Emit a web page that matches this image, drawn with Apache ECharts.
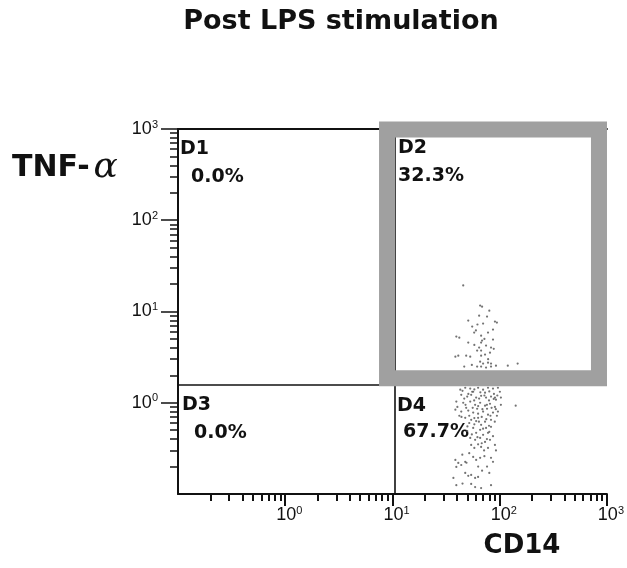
<!DOCTYPE html>
<html>
<head>
<meta charset="utf-8">
<title>Post LPS stimulation</title>
<script src="https://cdn.jsdelivr.net/npm/echarts@6/dist/echarts.min.js"></script>
<style>
  html, body { margin: 0; padding: 0; background: #fff; }
  #chart { width: 627px; height: 568px; }
</style>
</head>
<body>
<div id="chart"></div>
<script>
// CD14 (x) against TNF-alpha (y)
const cellsHigh = [
  [45.7, 19.3], [65.7, 11.6], [68.5, 11.3], [64.3, 9.0], [76.2, 8.8], [50.9, 7.96],
  [70.0, 7.38], [90.3, 7.76], [94.2, 7.57], [55.4, 6.84], [86.6, 6.34], [57.8, 5.87],
  [77.8, 5.87], [67.1, 5.44], [39.4, 5.31], [42.0, 5.17], [86.6, 4.92], [50.9, 4.56],
  [67.1, 4.56], [68.5, 4.80], [74.6, 4.23], [83.0, 4.02], [64.3, 4.02], [61.6, 3.73],
  [67.1, 3.73], [81.2, 3.54], [48.7, 3.28], [53.1, 3.20], [38.6, 3.20], [41.1, 3.28],
  [67.1, 3.28], [73.0, 3.37], [65.7, 2.82], [70.0, 2.69], [77.8, 2.75], [83.0, 2.69],
  [61.6, 2.49], [67.1, 2.49], [46.7, 2.49], [92.3, 2.55], [119, 2.55], [147, 2.69],
  [74.6, 2.43], [83.0, 2.49],
  [60, 6.2], [72, 5.0], [58, 4.3], [78, 3.0], [55, 2.6], [88, 3.9], [62, 7.2], [80, 10.2]
];
const cellsLow = [
  [42.9, 1.39], [47.7, 1.46], [53.1, 1.43], [56.6, 1.32], [62.9, 1.46], [70.0, 1.39],
  [77.8, 1.46], [86.6, 1.43], [96.3, 1.46], [100.4, 1.32], [43.8, 1.22], [49.8, 1.17],
  [54.2, 1.22], [60.3, 1.14], [67.1, 1.19], [74.6, 1.14], [83.0, 1.17], [92.3, 1.08],
  [102.6, 1.14], [39.4, 1.03], [45.7, 1.00], [53.1, 1.03], [59.0, 0.95], [65.7, 1.00],
  [73.0, 0.93], [81.2, 0.975], [90.3, 0.90], [141, 0.93], [38.6, 0.84], [43.8, 0.80],
  [50.9, 0.82], [56.6, 0.78], [62.9, 0.76], [70.0, 0.80], [77.8, 0.74], [86.6, 0.78],
  [96.3, 0.80], [47.7, 0.684], [54.2, 0.65], [62.9, 0.684], [73.0, 0.62], [83.0, 0.65],
  [67.1, 0.573], [56.6, 0.53], [65.7, 0.505], [74.6, 0.53], [83.0, 0.545], [60.3, 0.468],
  [70.0, 0.445], [77.8, 0.468], [53.1, 0.412], [59.0, 0.392], [65.7, 0.412], [73.0, 0.372],
  [81.2, 0.392], [90.3, 0.345], [54.2, 0.345], [67.1, 0.328], [77.8, 0.320], [56.6, 0.255],
  [60.3, 0.236], [65.7, 0.249], [83.0, 0.249], [86.6, 0.225], [38.6, 0.236], [41.1, 0.219],
  [43.8, 0.208], [47.7, 0.225], [39.4, 0.198], [47.7, 0.170], [50.9, 0.158], [54.2, 0.162],
  [59.0, 0.150], [62.9, 0.154], [37.0, 0.150], [39.4, 0.125], [54.2, 0.129], [59.0, 0.119],
  [83.0, 0.125], [67.1, 0.116],
  [46.7, 1.11], [57.8, 1.06], [64.3, 1.11], [79.5, 1.06], [88.4, 1.25], [48.7, 0.88],
  [61.6, 0.86], [76.2, 0.86], [94.2, 0.72], [42.0, 0.72], [52.0, 0.60], [60.3, 0.63],
  [79.5, 0.56], [49.8, 0.49], [86.6, 0.43], [62.9, 0.35], [71.5, 0.30], [52.0, 0.28],
  [76.2, 0.20], [68.5, 0.18], [44.8, 0.27], [92.3, 0.30], [55.4, 1.32], [73.0, 1.29],
  [90.3, 1.14], [40.3, 0.90], [102.6, 0.95],
  [45, 1.35], [51, 1.25], [58, 1.40], [66, 1.30], [72, 1.20], [80, 1.33], [88, 1.10],
  [95, 1.20], [48, 0.95], [56, 0.88], [63, 0.92], [69, 0.85], [76, 0.95], [84, 0.88],
  [92, 0.85], [44, 0.70], [52, 0.72], [58, 0.68], [68, 0.70], [75, 0.66], [82, 0.72],
  [90, 0.62], [50, 0.55], [58, 0.58], [64, 0.62], [70, 0.52], [80, 0.48], [55, 0.45],
  [62, 0.42], [76, 0.40], [68, 0.36], [58, 0.32], [72, 0.26], [49, 0.22], [63, 0.20],
  [80, 0.17], [45, 0.13]
];

const decadeTicks = [1, 10, 100, 1000];
const minorTicks = [0.2, 0.3, 0.4, 0.5, 0.6, 0.7, 0.8, 0.9, 2, 3, 4, 5, 6, 7, 8, 9,
  20, 30, 40, 50, 60, 70, 80, 90, 200, 300, 400, 500, 600, 700, 800, 900];

// gate lines and the highlighted D2 gate (centre line of the grey frame)
const gateX = 10.5;
const gateY = 1.58;
const d2Box = [[8.9, 1.86, 843, 987]];

const quadLabels = [
  { name: 'D1', pct: '0.0%', x: 180, y: 149.5, px: 191, py: 177.5 },
  { name: 'D2', pct: '32.3%', x: 398, y: 148, px: 398, py: 176.5 },
  { name: 'D3', pct: '0.0%', x: 182, y: 405.5, px: 194, py: 433 },
  { name: 'D4', pct: '67.7%', x: 397, y: 406, px: 403, py: 432 }
];

const ink = '#111';
const supRich = {
  b: { fontSize: 18, lineHeight: 20, fontFamily: 'Liberation Sans', color: ink },
  e: { fontSize: 11, lineHeight: 12, fontFamily: 'Liberation Sans', color: ink, verticalAlign: 'top' }
};
const powerLabel = function (v) {
  const e = Math.round(Math.log10(v));
  return '{b|10}{e|' + e + '}';
};

const logAxis = function (extra) {
  return Object.assign({
    type: 'log',
    logBase: 10,
    min: 0.1,
    max: 1000,
    splitLine: { show: false },
    minorTick: { show: false },
    minorSplitLine: { show: false }
  }, extra);
};

const chart = echarts.init(document.getElementById('chart'));

const labelGraphics = [];
quadLabels.forEach(function (q) {
  labelGraphics.push({
    type: 'text', x: q.x, y: q.y, silent: true,
    style: { text: q.name, font: 'bold 19px "DejaVu Sans"', fill: ink, textVerticalAlign: 'middle' }
  });
  labelGraphics.push({
    type: 'text', x: q.px, y: q.py, silent: true,
    style: { text: q.pct, font: 'bold 19px "DejaVu Sans"', fill: ink, textVerticalAlign: 'middle' }
  });
});

const option = {
  animation: false,
  backgroundColor: '#fff',
  grid: { left: 178, right: 17, top: 129, bottom: 74 },
  xAxis: [
    logAxis({
      position: 'bottom',
      axisLine: { show: true, onZero: false, lineStyle: { color: ink, width: 2 } },
      axisTick: { show: true, customValues: decadeTicks, length: 12, lineStyle: { color: ink, width: 2 } },
      axisLabel: {
        customValues: decadeTicks, formatter: powerLabel, rich: supRich,
        margin: 11, padding: [0, 0, 0, 8]
      }
    }),
    logAxis({
      position: 'bottom',
      axisLine: { show: false, onZero: false },
      axisTick: { show: true, customValues: minorTicks, length: 7, lineStyle: { color: ink, width: 2 } },
      axisLabel: { show: false }
    }),
    logAxis({
      position: 'top',
      axisLine: { show: true, onZero: false, lineStyle: { color: ink, width: 2 } },
      axisTick: { show: false },
      axisLabel: { show: false }
    })
  ],
  yAxis: [
    logAxis({
      position: 'left',
      axisLine: { show: true, onZero: false, lineStyle: { color: ink, width: 2 } },
      axisTick: { show: true, customValues: decadeTicks, length: 17, lineStyle: { color: ink, width: 1.5 } },
      axisLabel: { customValues: decadeTicks, formatter: powerLabel, rich: supRich, margin: 20 }
    }),
    logAxis({
      position: 'left',
      axisLine: { show: false, onZero: false },
      axisTick: { show: true, customValues: minorTicks, length: 8, lineStyle: { color: ink, width: 1.5 } },
      axisLabel: { show: false }
    })
  ],
  series: [
    {
      name: 'D4 cells',
      type: 'scatter',
      symbol: 'circle',
      symbolSize: 2.2,
      itemStyle: { color: '#5a5a5a', opacity: 0.85 },
      data: cellsLow,
      markLine: {
        silent: true,
        symbol: 'none',
        label: { show: false },
        lineStyle: { color: ink, width: 1.6, type: 'solid' },
        data: [{ xAxis: gateX }, { yAxis: gateY }]
      }
    },
    {
      name: 'D2 cells',
      type: 'scatter',
      symbol: 'circle',
      symbolSize: 2.2,
      itemStyle: { color: '#5a5a5a', opacity: 0.85 },
      data: cellsHigh
    },
    {
      name: 'D2 gate',
      type: 'custom',
      z: 5,
      silent: true,
      clip: false,
      dimensions: ['x1', 'y1', 'x2', 'y2'],
      encode: { x: [0, 2], y: [1, 3] },
      data: d2Box,
      renderItem: function (params, api) {
        const a = api.coord([api.value(0), api.value(1)]);
        const b = api.coord([api.value(2), api.value(3)]);
        return {
          type: 'rect',
          shape: { x: a[0], y: b[1], width: b[0] - a[0], height: a[1] - b[1] },
          style: { fill: 'none', stroke: '#a0a0a0', lineWidth: 16, lineJoin: 'miter' }
        };
      }
    }
  ],
  graphic: [
    {
      type: 'text', x: 341, y: 22, silent: true,
      style: { text: 'Post LPS stimulation', font: 'bold 27px "DejaVu Sans"', fill: ink, textAlign: 'center', textVerticalAlign: 'middle' }
    },
    {
      type: 'text', x: 12, y: 168, silent: true,
      style: {
        text: '{t|TNF-}{a|α}',
        textVerticalAlign: 'middle',
        rich: {
          t: { font: 'bold 30px "DejaVu Sans"', fill: ink },
          a: { font: 'italic 36px "DejaVu Serif"', fill: ink, padding: [0, 0, 0, 4] }
        }
      }
    },
    {
      type: 'text', x: 522, y: 546, silent: true,
      style: { text: 'CD14', font: 'bold 26px "DejaVu Sans"', fill: ink, textAlign: 'center', textVerticalAlign: 'middle' }
    }
  ].concat(labelGraphics)
};

chart.setOption(option);
</script>
</body>
</html>
